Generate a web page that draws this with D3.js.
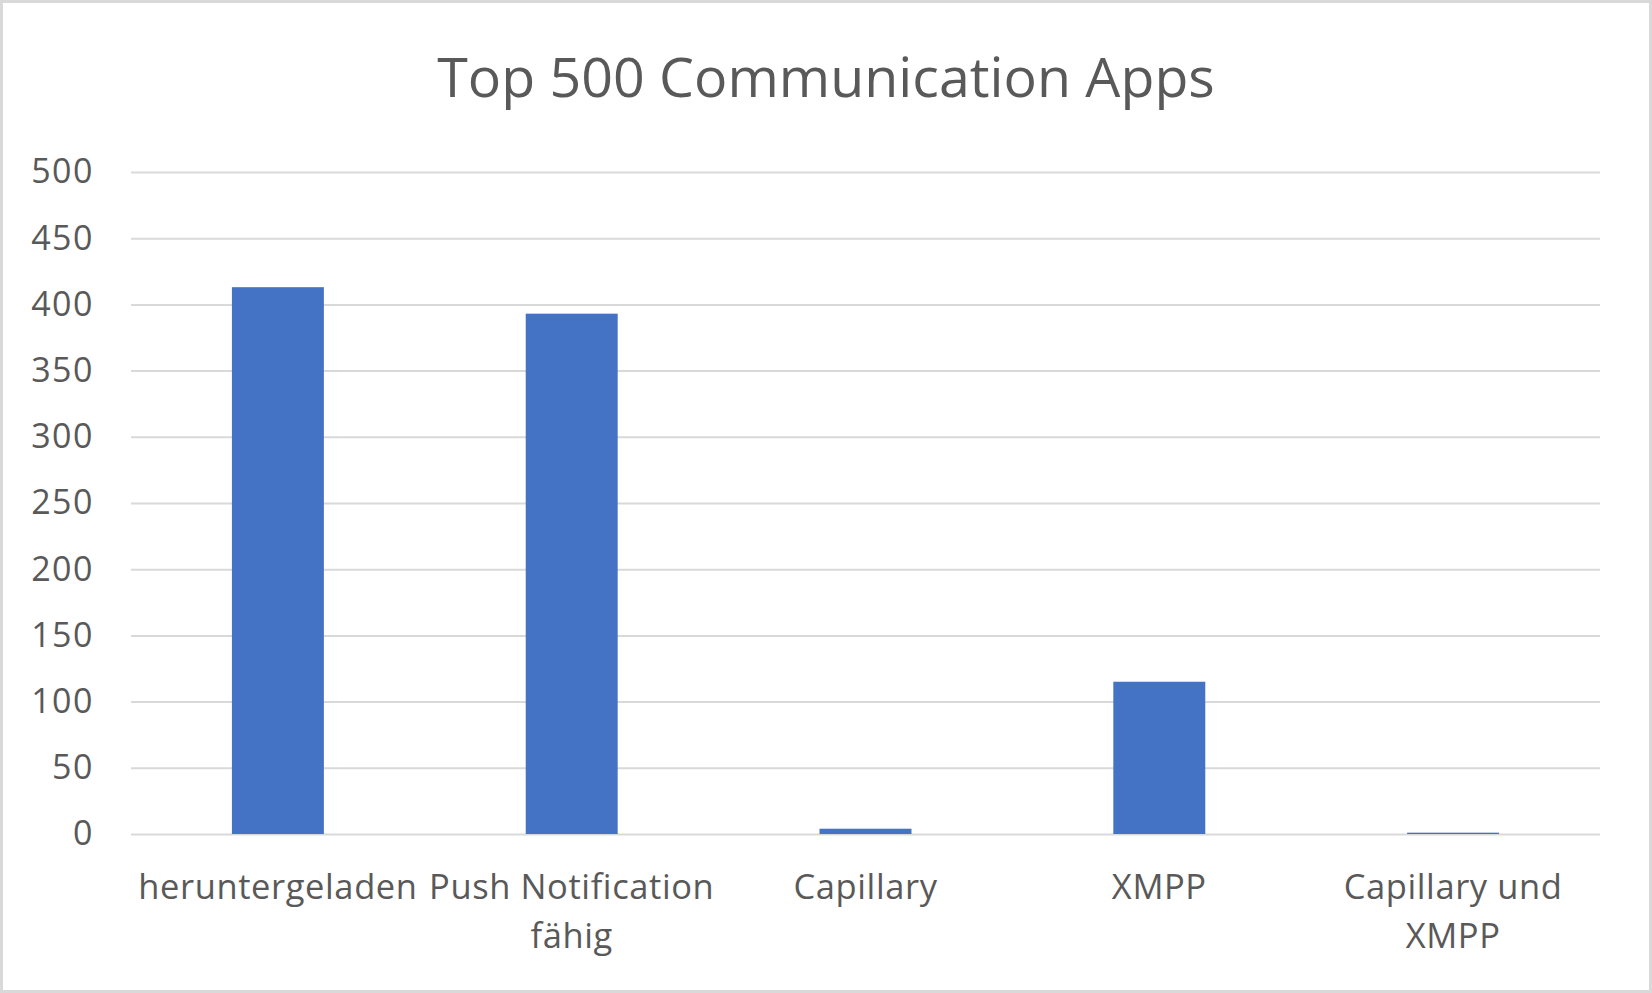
<!DOCTYPE html>
<html>
<head>
<meta charset="utf-8">
<script src="https://cdn.jsdelivr.net/npm/d3@7"></script>
<style>
  html, body { margin: 0; padding: 0; background: #fff; }
  svg { display: block; }
</style>
</head>
<body>
<div id="chart"></div>
<script>
const title = "Top 500 Communication Apps";
const categories = ["heruntergeladen", "Push Notification fähig", "Capillary", "XMPP", "Capillary und XMPP"];
const values = [413, 393, 4, 115, 1];
const yTicks = [0, 50, 100, 150, 200, 250, 300, 350, 400, 450, 500];

const width = 1652;
const height = 993;
const marginTop = 172;
const marginRight = 52;
const marginBottom = 159;
const marginLeft = 131;

const textColor = "#595959";
const gridColor = "#d9d9d9";
const barColor = "#4472c4";
const font = "'Open Sans', 'Noto Sans', sans-serif";

const svg = d3.select("#chart").append("svg")
    .attr("width", width)
    .attr("height", height)
    .attr("viewBox", [0, 0, width, height]);

// Frame round the chart.
svg.append("rect")
    .attr("x", 1.5)
    .attr("y", 1.5)
    .attr("width", width - 3)
    .attr("height", height - 3)
    .attr("fill", "#fff")
    .attr("stroke", gridColor)
    .attr("stroke-width", 3);

const x = d3.scaleBand()
    .domain(categories)
    .range([marginLeft, width - marginRight])
    .paddingInner(0.687)
    .paddingOuter(0.3435);

const y = d3.scaleLinear()
    .domain([0, 500])
    .range([height - marginBottom, marginTop]);

svg.append("text")
    .attr("x", width / 2)
    .attr("y", 97)
    .attr("text-anchor", "middle")
    .attr("fill", textColor)
    .style("font-family", font)
    .style("font-size", "55.5px")
    .text(title);

// Gridlines with the value labels.
const yAxis = svg.append("g")
    .attr("transform", `translate(${marginLeft},0)`)
    .call(d3.axisLeft(y)
        .tickValues(yTicks)
        .tickFormat(d3.format("d"))
        .tickSize(-(width - marginLeft - marginRight))
        .tickPadding(37));

yAxis.select(".domain").remove();
yAxis.selectAll(".tick line")
    .attr("stroke", gridColor)
    .attr("stroke-width", 2);
yAxis.selectAll(".tick text")
    .attr("fill", textColor)
    .style("font-family", font)
    .style("font-size", "34px")
    .style("letter-spacing", "1.5px");

svg.append("g")
    .selectAll("rect")
    .data(values)
    .join("rect")
    .attr("x", (d, i) => x(categories[i]))
    .attr("y", d => y(d))
    .attr("width", x.bandwidth())
    .attr("height", d => y(0) - y(d))
    .attr("fill", barColor);

// Category labels, wrapped to the band step like the original.
const xAxis = svg.append("g")
    .attr("transform", `translate(0,${height - marginBottom})`)
    .call(d3.axisBottom(x).tickSize(0).tickPadding(0));

xAxis.select(".domain").remove();
xAxis.selectAll(".tick text")
    .attr("fill", textColor)
    .attr("y", 0)
    .attr("dy", null)
    .style("font-family", font)
    .style("font-size", "34.5px")
    .style("letter-spacing", "0.6px")
    .each(function(d) {
        wrap(d3.select(this), d, x.step());
    });

function wrap(text, label, maxWidth)
{
    const words = label.split(" ");
    const lines = [];
    let line = [];
    text.text(null);
    const probe = text.append("tspan");
    for (const word of words) {
        line.push(word);
        probe.text(line.join(" "));
        if (probe.node().getComputedTextLength() > maxWidth && line.length > 1) {
            line.pop();
            lines.push(line.join(" "));
            line = [word];
        }
    }
    lines.push(line.join(" "));
    probe.remove();

    lines.forEach((l, i) => {
        text.append("tspan")
            .attr("x", 0)
            .attr("y", 65 + i * 49)
            .text(l);
    });
}
</script>
</body>
</html>
